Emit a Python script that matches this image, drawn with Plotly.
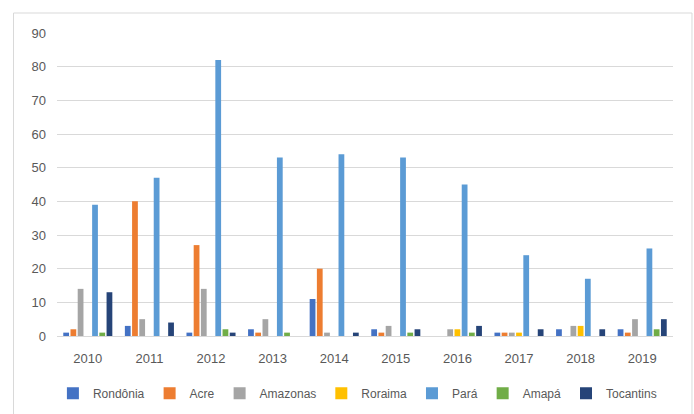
import plotly.graph_objects as go

years = ["2010", "2011", "2012", "2013", "2014", "2015", "2016", "2017", "2018", "2019"]
rondonia = [1, 3, 1, 2, 11, 2, 0, 1, 2, 2]
acre = [2, 40, 27, 1, 20, 1, 0, 1, 0, 1]
amazonas = [14, 5, 14, 5, 1, 3, 2, 1, 3, 5]
roraima = [0, 0, 0, 0, 0, 0, 2, 1, 3, 0]
para = [39, 47, 82, 53, 54, 53, 45, 24, 17, 26]
amapa = [1, 0, 2, 1, 0, 1, 1, 0, 0, 2]
tocantins = [13, 4, 1, 0, 1, 2, 3, 2, 2, 5]

series = [
    ("Rondônia", rondonia, "#4472C4"),
    ("Acre", acre, "#ED7D31"),
    ("Amazonas", amazonas, "#A5A5A5"),
    ("Roraima", roraima, "#FFC000"),
    ("Pará", para, "#5B9BD5"),
    ("Amapá", amapa, "#70AD47"),
    ("Tocantins", tocantins, "#264478"),
]

fig = go.Figure()
for name, vals, col in series:
    fig.add_trace(go.Bar(x=years, y=vals, name=name, marker_color=col,
                         marker_line_width=0))

font = dict(family="Liberation Sans, Arial", size=13, color="#595959")
lfont = dict(family="Liberation Sans, Arial", size=12, color="#595959")
fig.update_layout(
    width=694, height=414,
    margin=dict(l=57, r=21, t=33, b=78, autoexpand=False),
    paper_bgcolor="white", plot_bgcolor="white",
    barmode="group", bargap=0.18, bargroupgap=0.2,
    font=font,
    showlegend=True,
    legend=dict(orientation="h", xref="container", yref="container",
                x=0.515, xanchor="center", y=0.05, yanchor="middle",
                font=lfont, itemwidth=30, traceorder="normal",
                bgcolor="rgba(0,0,0,0)"),
    xaxis=dict(showgrid=False, showline=True, linecolor="#D9D9D9", linewidth=1,
               ticks="", tickfont=font, ticklabelstandoff=10),
    yaxis=dict(range=[0, 90], dtick=10, showgrid=True, gridcolor="#D9D9D9", gridwidth=1,
               zeroline=False, showline=False, ticks="", tickfont=font,
               ticklabelstandoff=10),
    shapes=[dict(type="rect", xref="paper", yref="paper",
                 x0=-0.0706, x1=1.0308, y0=-0.27, y1=1.066,
                 line=dict(color="#D9D9D9", width=1), fillcolor="rgba(0,0,0,0)",
                 layer="below")],
)
fig.write_html("out.html")
